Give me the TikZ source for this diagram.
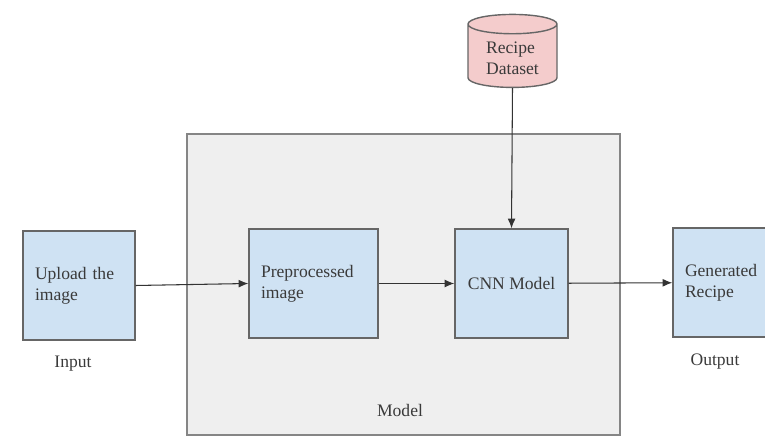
\documentclass[tikz,border=0pt]{standalone}
\usepackage{fontspec}
\setmainfont{Liberation Serif}
\usetikzlibrary{arrows.meta,positioning,shapes.geometric}

\definecolor{boxblue}{HTML}{CFE2F3}
\definecolor{dbpink}{HTML}{F4CCCC}
\definecolor{modelgray}{HTML}{EFEFEF}
\definecolor{edgegray}{HTML}{666666}
\definecolor{txtgray}{HTML}{3A3A3A}

\begin{document}
\begin{tikzpicture}[
  stagebox/.style={draw=edgegray, fill=boxblue, line width=0.8pt, align=left, text=txtgray,
    minimum width=2.24cm, minimum height=2.18cm, inner xsep=0.24cm,
    font=\fontsize{10}{12}\selectfont},
  label/.style={text=txtgray, font=\fontsize{10}{12}\selectfont},
  arr/.style={-{Latex[length=5.5pt,width=4.5pt]}, line width=0.6pt, black!80}
]

\useasboundingbox (0,0) rectangle (15.3,8.92);

% model frame
\node[draw=edgegray!80, fill=modelgray, line width=0.8pt, minimum width=8.66cm, minimum height=6.02cm] (model) at (8.07,3.23) {};
\node[label] (modeltxt) at (8.0,0.72) {Model};

\node[stagebox, text width=1.76cm] (upload) at (1.58,3.21) {Upload the\\image};
\node[stagebox, minimum width=2.58cm, text width=2.1cm] (prep) at (6.27,3.25) {Preprocessed\\image};
\node[stagebox, minimum width=2.26cm, align=center] (cnn) at (10.23,3.25) {CNN Model};
\node[stagebox, text width=1.76cm] (gen) at (14.58,3.27) {Generated\\Recipe};

\node[cylinder, shape border rotate=90, aspect=0.3, draw=edgegray, fill=dbpink, line width=0.8pt,
  minimum width=1.78cm, minimum height=1.46cm, align=left, text=txtgray,
  font=\fontsize{10}{12}\selectfont] (data) at (10.25,7.75) {Recipe\\Dataset};

\node[label, below=0.18cm of upload, xshift=-0.12cm] (input) {Input};
\node[label, below=0.2cm of gen, xshift=-0.28cm] (output) {Output};

\draw[arr] (upload.east) -- (prep.west);
\draw[arr] (prep) -- (cnn);
\draw[arr] (cnn) -- (gen);
\draw[arr] (data.bottom) -- (cnn.north);

\end{tikzpicture}
\end{document}
